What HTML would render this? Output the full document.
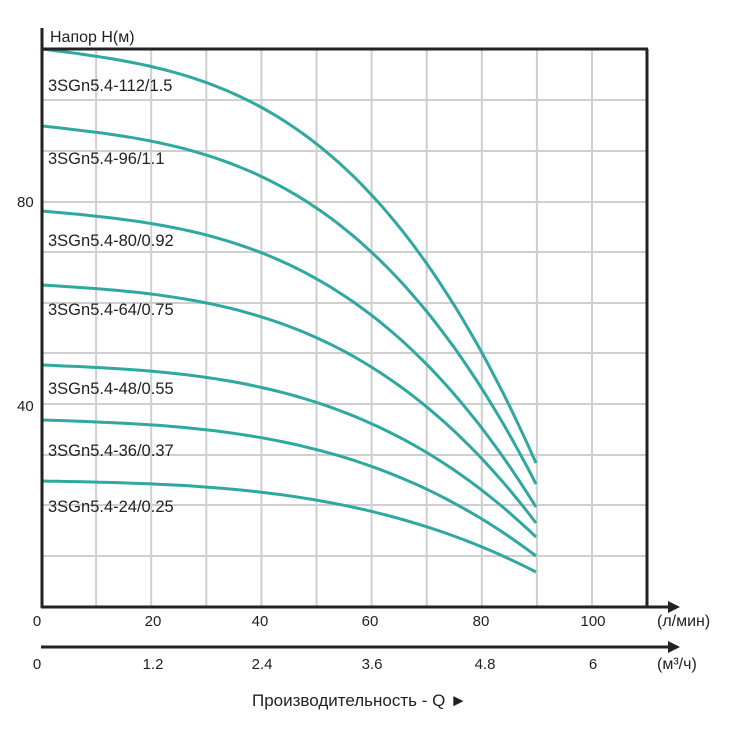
<!DOCTYPE html>
<html><head><meta charset="utf-8"><style>
body{margin:0;background:#fff;}
svg text{font-family:"Liberation Sans",sans-serif;fill:#222;}
</style></head><body>
<svg id="s" width="730" height="726" xmlns="http://www.w3.org/2000/svg">
<g stroke="#cfcfcf" stroke-width="2" id="grid"></g>
<g id="curves" fill="none" stroke="#2fa8a0" stroke-width="3"></g>
<line x1="42" y1="49" x2="648" y2="49" stroke="#222" stroke-width="3"/>
<line x1="647" y1="49" x2="647" y2="607" stroke="#222" stroke-width="3"/>
<line x1="42" y1="28" x2="42" y2="608" stroke="#222" stroke-width="3"/>
<line x1="41" y1="607" x2="670" y2="607" stroke="#222" stroke-width="3"/>
<polygon points="668,601 680,607 668,613" fill="#222"/>
<line x1="41" y1="647" x2="670" y2="647" stroke="#222" stroke-width="3"/>
<polygon points="668,641 680,647 668,653" fill="#222"/>
<g font-size="16">
<text x="50" y="42">Напор H(м)</text>
<text x="17" y="207" font-size="15">80</text>
<text x="17" y="411" font-size="15">40</text>
<g text-anchor="middle" font-size="15">
<text x="37" y="626">0</text><text x="153" y="626">20</text><text x="260" y="626">40</text>
<text x="370" y="626">60</text><text x="481" y="626">80</text><text x="593" y="626">100</text>
<text x="37" y="669">0</text><text x="153" y="669">1.2</text><text x="262" y="669">2.4</text>
<text x="372" y="669">3.6</text><text x="485" y="669">4.8</text><text x="593" y="669">6</text>
</g>
<text x="657" y="626">(л/мин)</text>
<text x="657" y="669">(м³/ч)</text>
<text x="252" y="706" font-size="17">Производительность - Q ►</text>
<g font-size="16.5">
<text x="48" y="91">3SGn5.4-112/1.5</text>
<text x="48" y="164">3SGn5.4-96/1.1</text>
<text x="48" y="246">3SGn5.4-80/0.92</text>
<text x="48" y="315">3SGn5.4-64/0.75</text>
<text x="48" y="394">3SGn5.4-48/0.55</text>
<text x="48" y="456">3SGn5.4-36/0.37</text>
<text x="48" y="512">3SGn5.4-24/0.25</text>
</g>
</g>
</svg>
<script>
var NS="http://www.w3.org/2000/svg";
var g=document.getElementById('grid');
function ln(x1,y1,x2,y2){var l=document.createElementNS(NS,'line');l.setAttribute('x1',x1);l.setAttribute('y1',y1);l.setAttribute('x2',x2);l.setAttribute('y2',y2);g.appendChild(l);}
for(var i=1;i<11;i++){var x=41+55.1*i;ln(x,49,x,607);}
[556,505,455,404,353,303,252,202,151,100].forEach(function(y){ln(42,y,647,y);});
var c=document.getElementById('curves');
var data=[[49,463,0.15],[126,484,0.15],[211,507,0.15],[285,523,0.13],[365,537,0.12],[420,556,0.12],[481,572,0.1]];
data.forEach(function(d){var s='';for(var k=0;k<=60;k++){var t=k/60;var x=42+494*t;var f=d[2]*t+(1-d[2])*t*t*t;var y=d[0]+(d[1]-d[0])*f;s+=(k?'L':'M')+x.toFixed(1)+','+y.toFixed(1);}
var p=document.createElementNS(NS,'path');p.setAttribute('d',s);c.appendChild(p);});
</script>
</body></html>
